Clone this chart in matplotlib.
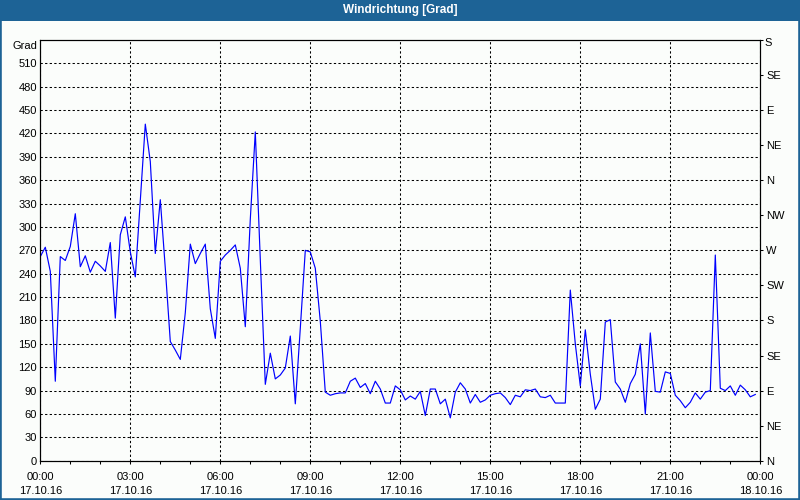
import matplotlib
matplotlib.use("Agg")
import matplotlib.pyplot as plt
from matplotlib.patches import Rectangle
import numpy as np

# ---- data (10-minute samples, 17.10.16 00:00 .. 23:50) ----
direction_deg = [
    262, 274, 243, 102, 262, 257, 275, 317, 249, 263, 242, 256,
    250, 243, 280, 183, 290, 313, 268, 236, 334, 432, 384, 266,
    335, 247, 153, 142, 130, 190, 278, 253, 266, 278, 195, 157,
    256, 264, 270, 277, 247, 172, 310, 422, 258, 98, 138, 105,
    110, 119, 160, 73, 170, 270, 268, 247, 179, 88, 84, 86,
    87, 87, 102, 106, 94, 99, 86, 102, 92, 74, 74, 96,
    91, 78, 83, 79, 89, 58, 92, 92, 73, 79, 55, 88,
    100, 92, 74, 85, 75, 78, 84, 86, 87, 81, 72, 84,
    82, 91, 90, 92, 82, 81, 84, 74, 74, 74, 219, 150,
    96, 168, 111, 66, 79, 178, 181, 101, 92, 75, 99, 111,
    150, 60, 164, 89, 88, 114, 112, 84, 77, 68, 75, 87,
    79, 88, 90, 264, 93, 90, 96, 84, 97, 91, 82, 85,
]
sample_minutes = 10
x_tick_hours = [0, 3, 6, 9, 12, 15, 18, 21, 24]
x_tick_labels = ["00:00\n17.10.16", "03:00\n17.10.16", "06:00\n17.10.16",
                 "09:00\n17.10.16", "12:00\n17.10.16", "15:00\n17.10.16",
                 "18:00\n17.10.16", "21:00\n17.10.16", "00:00\n18.10.16"]
left_ticks = list(range(0, 511, 30))
right_ticks = [0, 45, 90, 135, 180, 225, 270, 315, 360, 405, 450, 495, 540]
right_labels = ["N", "NE", "E", "SE", "S", "SW", "W", "NW", "N", "NE", "E", "SE", ""]
title = "Windrichtung [Grad]"
unit_label = "Grad"

t_hours = np.arange(len(direction_deg)) * sample_minutes / 60.0

bg = "#FBFDFB"
bar = "#1D6396"
plt.rcParams["font.family"] = ["Liberation Sans", "DejaVu Sans"]
plt.rcParams["font.size"] = 8

W, H = 800, 500
fig = plt.figure(figsize=(8, 5), dpi=100, facecolor=bg)

# title bar and border
fig.patches.append(Rectangle((0, 1 - 21 / H), 1, 21 / H, transform=fig.transFigure,
                             facecolor=bar, edgecolor="none", zorder=0))
fig.patches.append(Rectangle((0, 0), 1, 1, transform=fig.transFigure, fill=False,
                             edgecolor=bar, linewidth=2.6, zorder=5))
fig.text(0.5, 1 - 10.5 / H, title, color="white", ha="center", va="center",
         fontsize=8.5, fontweight="bold")

left, right, top, bottom = 40.3, 760.3, 40.0, 460.7
ax = fig.add_axes([left / W, 1 - bottom / H, (right - left) / W, (bottom - top) / H])
ax.set_facecolor(bg)
ax.plot(t_hours, direction_deg, color="#0000FF", lw=0.85, zorder=3)
ax.set_xlim(0, 24)
ax.set_ylim(0, 540)

ax.set_yticks(left_ticks)
ax.set_yticklabels([str(v) for v in left_ticks])
ax.tick_params(axis="y", length=0, pad=2.5, labelsize=8)
ax.set_xticks(x_tick_hours)
ax.set_xticklabels(x_tick_labels)
ax.set_xticks(np.arange(0, 25, 1), minor=True)
ax.tick_params(axis="x", which="both", direction="out", length=2.2, width=0.75, pad=6, labelsize=8)
for lbl in ax.get_xticklabels():
    lbl.set_linespacing(1.45)

ax.grid(True, which="major", axis="both", color="black", linestyle=(0, (2.2, 2.2)),
        linewidth=0.75)
for s in ax.spines.values():
    s.set_color("black")
    s.set_linewidth(0.8)

ax2 = ax.twinx()
ax2.set_ylim(0, 540)
ax2.set_yticks(right_ticks)
ax2.set_yticklabels(right_labels)
ax2.tick_params(axis="y", direction="out", length=1.8, width=0.75, pad=2.5, labelsize=8)
for s in ax2.spines.values():
    s.set_color("black")
    s.set_linewidth(0.8)

fig.text(764.5 / W, 1 - 43 / H, "S", ha="left", va="center", fontsize=8)
fig.text(37.5 / W, 1 - 46 / H, unit_label, ha="right", va="center", fontsize=8)

fig.savefig("out.png", dpi=100, facecolor=bg)
